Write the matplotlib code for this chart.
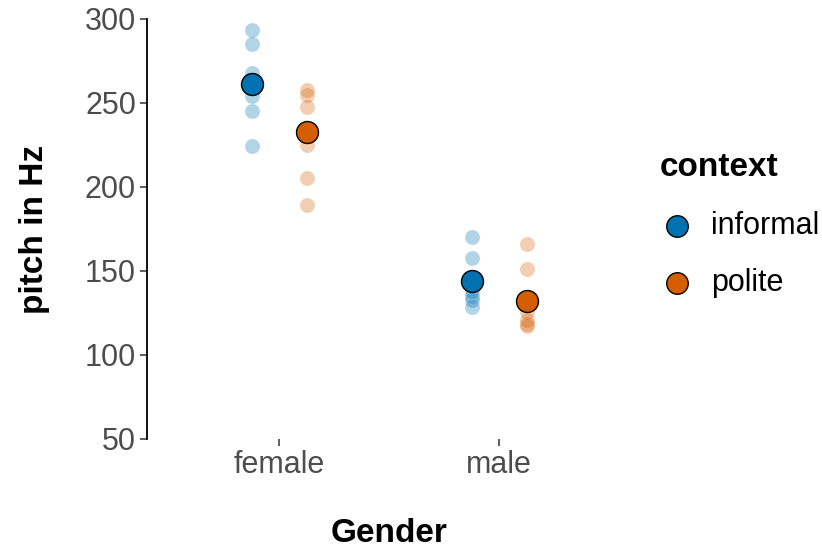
import matplotlib.pyplot as plt
import numpy as np
from matplotlib.lines import Line2D

plt.rcParams['font.family'] = ['Liberation Sans', 'DejaVu Sans']

# data
genders = ['female', 'male']
contexts = ['informal', 'polite']
colors = {'informal': '#0072B2', 'polite': '#D55E00'}

female_informal = [293.5, 285, 267.7, 263, 254.2, 245.4, 224.4]
female_polite = [257.7, 254.8, 247.4, 225, 205.2, 189]
male_informal = [170, 157.9, 138, 135.1, 132.7, 128.4]
male_polite = [166, 151, 125.8, 120.8, 118.5, 117.3]

mean_informal = [261.3, 144.0]
mean_polite = [232.9, 132.3]

points = {
    'informal': [female_informal, male_informal],
    'polite': [female_polite, male_polite],
}
means = {'informal': mean_informal, 'polite': mean_polite}
dodge = {'informal': -0.125, 'polite': 0.125}

W, H = 822, 550
fig = plt.figure(figsize=(W / 100, H / 100), dpi=100)
ax = fig.add_axes([147 / W, 111 / H, 484 / W, 420 / H])

for c in contexts:
    for i, vals in enumerate(points[c]):
        ax.scatter(np.full(len(vals), i + 1 + dodge[c]), vals, s=115,
                   color=colors[c], alpha=0.3, linewidths=0, zorder=2)
    ax.scatter(np.arange(1, 3) + dodge[c], means[c], s=250, color=colors[c],
               edgecolors='black', linewidths=1.0, zorder=3)

ax.set_xlim(0.4, 2.6)
ax.set_ylim(50, 300)
ax.set_xticks([1, 2])
ax.set_xticklabels(genders)
ax.set_yticks([50, 100, 150, 200, 250, 300])

for s in ['top', 'right', 'bottom']:
    ax.spines[s].set_visible(False)
ax.spines['left'].set_linewidth(1.3)
ax.tick_params(axis='both', labelsize=22, labelcolor='#4D4D4D', color='#333333',
               length=5, width=1.1, pad=3)

ax.set_xlabel('Gender', fontsize=24, fontweight='bold', labelpad=27)
ax.set_ylabel('pitch in Hz', fontsize=24, fontweight='bold', labelpad=25)

# legend, laid out by hand
fig.text(660 / W, 1 - 167 / H, 'context', fontsize=24, fontweight='bold',
         ha='left', va='center')
for c, ypix in zip(contexts, [226, 283]):
    fig.add_artist(Line2D([677 / W], [1 - ypix / H], marker='o', linestyle='',
                          markersize=15.5, markerfacecolor=colors[c],
                          markeredgecolor='black', markeredgewidth=1.0,
                          transform=fig.transFigure))
    fig.text(711 / W, 1 - ypix / H, c, fontsize=22, ha='left', va='center')

fig.savefig('out.png', dpi=100)
